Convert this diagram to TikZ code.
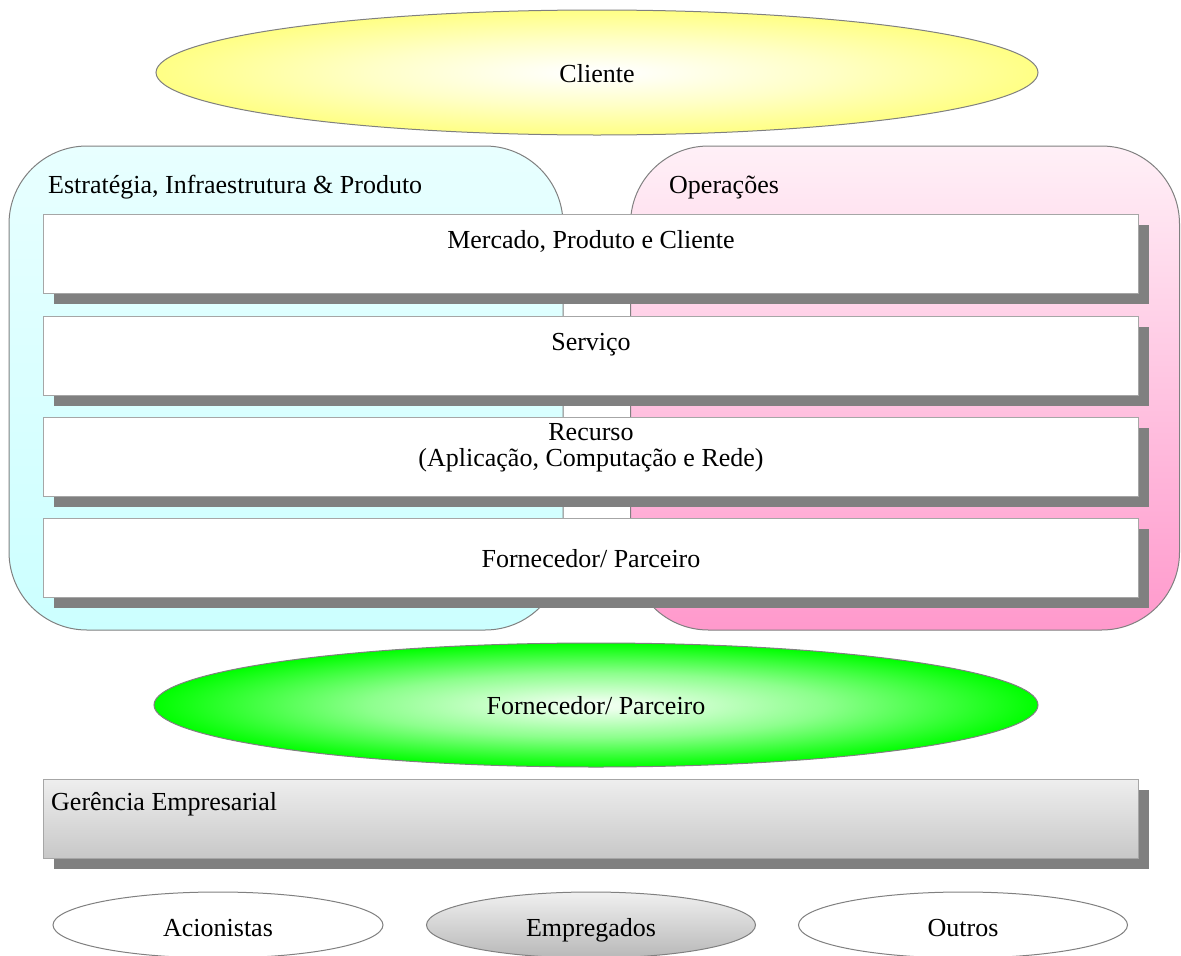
\documentclass[tikz,border=0pt]{standalone}
\usepackage{fontspec}
\setmainfont{Liberation Serif}
\usetikzlibrary{shapes.geometric,shadows}

\definecolor{edgegray}{HTML}{808080}
\definecolor{boxedge}{HTML}{A6A6A6}
\definecolor{shadowgray}{HTML}{808080}
\definecolor{cyantop}{HTML}{E8FFFF}
\definecolor{cyanbot}{HTML}{CCFFFF}
\definecolor{pinktop}{HTML}{FFF0F7}
\definecolor{pinkbot}{HTML}{FF99CC}
\definecolor{greytop}{HTML}{EEEEEE}
\definecolor{greybot}{HTML}{C8C8C8}
\definecolor{ovaltop}{HTML}{F0F0F0}
\definecolor{ovalbot}{HTML}{B8B8B8}

% glowing ellipses: white core fading to the rim colour (rim sits at 25bp)
\pgfdeclareradialshading{yellowglow}{\pgfpointorigin}{rgb(0bp)=(1,1,1); rgb(2bp)=(1,1,.98); rgb(13bp)=(1,1,.78); rgb(25bp)=(1,1,.52); rgb(50bp)=(1,1,.52)}
\pgfdeclareradialshading{greenglow}{\pgfpointorigin}{rgb(0bp)=(.95,1,.95); rgb(2bp)=(.92,1,.92); rgb(13bp)=(.55,1,.55); rgb(25bp)=(0,1,0); rgb(50bp)=(0,1,0)}

\tikzset{
  txt/.style={font=\fontsize{26}{27}\selectfont, inner sep=0pt, anchor=base},
  group/.style={draw=edgegray, line width=1pt, rounded corners=78pt, inner sep=0pt},
  layer/.style={draw=boxedge, line width=1pt, fill=white, inner sep=0pt,
    minimum width=1095pt, minimum height=79pt,
    general shadow={fill=shadowgray, shadow xshift=11pt, shadow yshift=-11pt}},
  oval/.style={ellipse, draw=edgegray, line width=1pt, inner sep=0pt},
}

\begin{document}
\begin{tikzpicture}[x=1pt, y=-1pt]
\useasboundingbox[fill=white] (0,0) rectangle (1181,956);

% the two domain groups behind the layers
\node[group, minimum width=554pt, minimum height=484pt,
      top color=cyantop, bottom color=cyanbot] (strat) at (286,388) {};
\node[group, minimum width=549pt, minimum height=484pt,
      top color=pinktop, bottom color=pinkbot] (ops) at (905,388) {};
\node[txt, anchor=base west] (stratlbl) at (48,193) {Estratégia, Infraestrutura \& Produto};
\node[txt, anchor=base west] (opslbl) at (669,193) {Operações};

% horizontal layers
\node[layer] (mkt) at (590.5,253.5) {};
\node[layer] (svc) at (590.5,355.5) {};
\node[layer] (res) at (590.5,456.5) {};
\node[layer] (sup) at (590.5,557.5) {};
\node[txt] (mktlbl) at (591,248) {Mercado, Produto e Cliente};
\node[txt] (svclbl) at (591,350) {Serviço};
\node[txt] (reslbl) at (591,440) {Recurso};
\node[txt] (reslbl2) at (591,466) {(Aplicação, Computação e Rede)};
\node[txt] (suplbl) at (591,567) {Fornecedor/ Parceiro};

% customer and supplier ellipses
\node[oval, minimum width=882pt, minimum height=125pt, shading=yellowglow] (cli) at (597,72.5) {};
\node[txt] (clilbl) at (597,82) {Cliente};
\node[oval, minimum width=884pt, minimum height=124pt, shading=greenglow] (part) at (596,705) {};
\node[txt] (partlbl) at (596,714) {Fornecedor/ Parceiro};

% enterprise management bar
\node[layer, top color=greytop, bottom color=greybot] (ent) at (590.5,818.5) {};
\node[txt, anchor=base west] (entlbl) at (51,810) {Gerência Empresarial};

% stakeholders
\node[oval, minimum width=330pt, minimum height=66pt, fill=white] (sh) at (218,925) {};
\node[oval, minimum width=329pt, minimum height=66pt, top color=ovaltop, bottom color=ovalbot] (emp) at (591,925) {};
\node[oval, minimum width=329pt, minimum height=66pt, fill=white] (oth) at (963,925) {};
\node[txt] (shlbl) at (218,936) {Acionistas};
\node[txt] (emplbl) at (591,936) {Empregados};
\node[txt] (othlbl) at (963,936) {Outros};
\end{tikzpicture}
\end{document}
